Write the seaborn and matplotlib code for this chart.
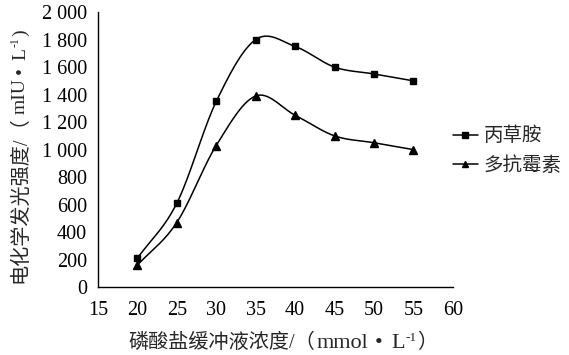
import numpy as np
import pandas as pd
import matplotlib
matplotlib.use("Agg")
import matplotlib.pyplot as plt
from matplotlib.lines import Line2D
import seaborn as sns

# ---- data ----
conc = [20, 25, 30, 35, 40, 45, 50, 55]
series_names = ["丙草胺", "多抗霉素"]
bingcaoan = [210, 610, 1350, 1800, 1750, 1600, 1550, 1500]
duokangmeisu = [160, 470, 1030, 1390, 1250, 1100, 1050, 1000]
x_ticks = [15, 20, 25, 30, 35, 40, 45, 50, 55, 60]
y_ticks = [0, 200, 400, 600, 800, 1000, 1200, 1400, 1600, 1800, 2000]
y_tick_labels = ["0", "200", "400", "600", "800", "1 000", "1 200", "1 400",
                 "1 600", "1 800", "2 000"]

sns.set_theme(style="white")
plt.rcParams["font.family"] = ["Liberation Serif", "Noto Sans CJK SC", "DejaVu Serif"]


def catmull_rom(xs, ys, n=30):
    """Smooth drawing path through the given points (Excel-like smoothed line)."""
    P = np.column_stack([xs, ys]).astype(float)
    P = np.vstack([P[0] - (P[1] - P[0]), P, P[-1] + (P[-1] - P[-2])])
    out = []
    t = np.linspace(0, 1, n, endpoint=False)[:, None]
    for i in range(1, len(P) - 2):
        p0, p1, p2, p3 = P[i - 1], P[i], P[i + 1], P[i + 2]
        seg = 0.5 * ((2 * p1) + (-p0 + p2) * t + (2 * p0 - 5 * p1 + 4 * p2 - p3) * t ** 2
                     + (-p0 + 3 * p1 - 3 * p2 + p3) * t ** 3)
        out.append(seg)
    out.append(P[-2][None, :])
    S = np.vstack(out)
    return S[:, 0], S[:, 1]


def layout_label(fig, segs, start, baseline, vertical):
    """Place text segments of mixed size one after another (pixel coords from bottom-left)."""
    renderer = fig.canvas.get_renderer()
    W, H = fig.bbox.width, fig.bbox.height
    pos = start
    for text, size, shift, gap in segs:
        if vertical:
            t = fig.text((baseline - shift) / W, pos / H, text, fontsize=size,
                         rotation=90, rotation_mode="anchor", ha="left", va="baseline")
            length = t.get_window_extent(renderer).height
        else:
            t = fig.text(pos / W, (baseline + shift) / H, text, fontsize=size,
                         ha="left", va="baseline")
            length = t.get_window_extent(renderer).width
        pos += length + gap


fig = plt.figure(figsize=(5.69, 3.55), dpi=100)
ax = fig.add_axes([0.172, 0.191, 0.624, 0.775])

markers = ["s", "^"]
msizes = [5, 6]
handles = []
for name, vals, mk, ms in zip(series_names, [bingcaoan, duokangmeisu], markers, msizes):
    sx, sy = catmull_rom(conc, vals)
    smooth = pd.DataFrame({"x": sx, "y": sy})
    sns.lineplot(data=smooth, x="x", y="y", ax=ax, color="black", linewidth=1.1,
                 sort=False, estimator=None)
    pts = pd.DataFrame({"x": conc, "y": vals})
    ax.plot(pts["x"], pts["y"], linestyle="none", marker=mk, markersize=ms,
            color="black")
    handles.append(Line2D([0], [0], color="black", linewidth=1.1, marker=mk,
                          markersize=ms - 1))

ax.set_xlim(15, 60)
ax.set_ylim(0, 2000)
ax.set_xticks(x_ticks)
ax.set_xticklabels([str(v) for v in x_ticks])
ax.set_yticks(y_ticks)
ax.set_yticklabels(y_tick_labels)
ax.tick_params(axis="both", direction="in", length=5, width=1, color="black",
               labelsize=14.5, labelcolor="black")
ax.tick_params(axis="x", pad=10)
ax.tick_params(axis="y", pad=8)
for side in ["top", "right"]:
    ax.spines[side].set_visible(False)
for side in ["left", "bottom"]:
    ax.spines[side].set_color("black")
    ax.spines[side].set_linewidth(1)
ax.set_xlabel("")
ax.set_ylabel("")

# x-axis title: 磷酸盐缓冲液浓度/（mmol•L-1）
layout_label(fig, [("磷酸盐缓冲液浓度/（", 14.5, 0, 2),
                   ("mmol", 16, 0, 6),
                   ("•", 16, 0, 9),
                   ("L", 16, 0, 0.5),
                   ("-1", 9.5, 7, 1),
                   ("）", 14.5, 0, 0)],
             start=128, baseline=7, vertical=False)

# y-axis title: 电化学发光强度/（mIU•L-1）
layout_label(fig, [("电化学发光强度/（", 14.5, 0, 2),
                   ("mIU", 14, 0, 5),
                   ("•", 14, 0, 7),
                   ("L", 14, 0, 0.5),
                   ("-1", 8.5, 6, 1),
                   (")", 14, 0, 0)],
             start=72, baseline=25, vertical=True)

fig.legend(handles, series_names, loc="center left", bbox_to_anchor=(0.765, 0.575),
           frameon=False, fontsize=14, handlelength=1.3, handletextpad=0.3,
           labelspacing=0.55)

fig.savefig("out.png", dpi=100)
